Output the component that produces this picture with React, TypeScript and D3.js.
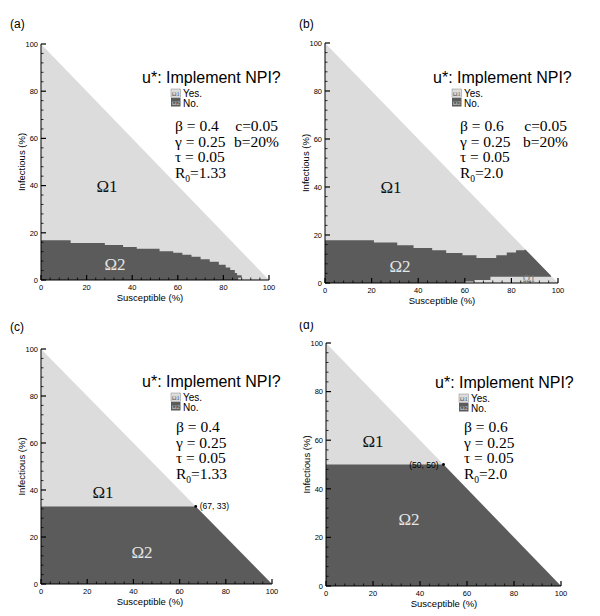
import React from "react";
import * as d3 from "d3";

// ---------- data ----------
const X_TICKS = [0, 20, 40, 60, 80, 100];
const Y_TICKS = [0, 20, 40, 60, 80, 100];
const MINOR_STEP = 4;

// (a) upper boundary of Ω2: level start S and level I
const A_STEP_S = [0, 13, 28, 36, 42, 52, 58, 62, 66, 70, 74, 78, 81, 83, 85, 86];
const A_STEP_I = [16.8, 15.7, 14.8, 14.0, 13.2, 12.2, 11.5, 10.7, 9.8, 8.8, 7.7, 6.5, 5.3, 4.2, 3.0, 2.0];
const A_TAIL_S = [88, 88, 86.5, 86.5];
const A_TAIL_I = [2.0, 1.0, 1.0, 0];

// (b) upper boundary, diagonal run, lower boundary (Ω1 strip)
const B_STEP_S = [0, 21, 31, 38, 46, 52, 59, 65, 73.5, 78, 82];
const B_STEP_I = [17.8, 16.9, 15.7, 14.6, 13.6, 12.5, 11.6, 10.4, 11.6, 12.7, 13.6];
const B_DIAG_S = [85.5, 86, 97];
const B_DIAG_I = [13.6, 14, 3];
const B_LOW_S = [97, 71, 71, 64, 64, 60, 60];
const B_LOW_I = [2.6, 2.6, 1.3, 1.3, 0.6, 0.6, 0];

// (c), (d) switching points
const C_POINT = [67, 33];
const D_POINT = [50, 50];

const LIGHT = "#dcdcdc";
const DARK = "#5b5b5b";
const SANS = "'Liberation Sans', Arial, Helvetica, sans-serif";
const SERIF = "'Liberation Serif', 'Times New Roman', Times, serif";

type Pt = [number, number];

function staircase(startS: number[], levels: number[], endS: number): Pt[] {
  const pts: Pt[] = [[0, 0]];
  startS.forEach((s, i) => {
    pts.push([s, levels[i]]);
    const next = i + 1 < startS.length ? startS[i + 1] : endS;
    pts.push([next, levels[i]]);
  });
  return pts;
}

const panelAOmega2: Pt[] = [
  ...staircase(A_STEP_S, A_STEP_I, A_TAIL_S[0]),
  ...A_TAIL_S.map((s, i) => [s, A_TAIL_I[i]] as Pt),
];
const panelBOmega2: Pt[] = [
  ...staircase(B_STEP_S, B_STEP_I, B_DIAG_S[0]),
  ...B_DIAG_S.map((s, i) => [s, B_DIAG_I[i]] as Pt),
  ...B_LOW_S.map((s, i) => [s, B_LOW_I[i]] as Pt),
];
const panelCOmega2: Pt[] = [[0, 0], [0, C_POINT[1]], [C_POINT[0], C_POINT[1]], [100, 0]];
const panelDOmega2: Pt[] = [[0, 0], [0, D_POINT[1]], [D_POINT[0], D_POINT[1]], [100, 0]];
const TRIANGLE: Pt[] = [[0, 0], [0, 100], [100, 0]];

interface PanelCfg {
  label: string;
  lx: number; ly: number;
  x0: number; x1: number; y0: number; yTop: number;
  omega2: Pt[];
  titleX: number; titleY: number;
  legX: number;
  parX: number; parY: number; parDy: number;
  beta: string; r0: string;
  extra: boolean; extraRight: number;
  o1: Pt; o2: Pt;
  xTitleX: number;
  point?: number[]; pointLabel?: string; pointAnchor?: string; pointDx?: number;
  smallO1?: Pt;
}

const PANELS: PanelCfg[] = [
  {
    label: "(a)", lx: 10, ly: 28, x0: 41, x1: 269, y0: 280, yTop: 44,
    omega2: panelAOmega2, titleX: 142, titleY: 83, legX: 171, parX: 175, parY: 131, parDy: 15.5,
    beta: "0.4", r0: "1.33", extra: true, extraRight: 278, o1: [107, 187], o2: [115, 265], xTitleX: 150,
  },
  {
    label: "(b)", lx: 299, ly: 28, x0: 325, x1: 558, y0: 283, yTop: 43,
    omega2: panelBOmega2, titleX: 433, titleY: 83, legX: 452, parX: 460, parY: 131, parDy: 15.5,
    beta: "0.6", r0: "2.0", extra: true, extraRight: 567, o1: [391, 188], o2: [400, 267], xTitleX: 442,
    smallO1: [529, 279],
  },
  {
    label: "(c)", lx: 10, ly: 331, x0: 41, x1: 272, y0: 584, yTop: 349,
    omega2: panelCOmega2, titleX: 142, titleY: 387, legX: 171, parX: 176, parY: 432, parDy: 15.5,
    beta: "0.4", r0: "1.33", extra: false, extraRight: 0, o1: [103, 493], o2: [142, 553], xTitleX: 150,
    point: C_POINT, pointLabel: "(67, 33)", pointAnchor: "start", pointDx: 4,
  },
  {
    label: "(d)", lx: 299, ly: 329, x0: 326, x1: 561, y0: 586, yTop: 343,
    omega2: panelDOmega2, titleX: 435, titleY: 388, legX: 459, parX: 464, parY: 432, parDy: 15.5,
    beta: "0.6", r0: "2.0", extra: false, extraRight: 0, o1: [373, 442], o2: [409, 520], xTitleX: 444,
    point: D_POINT, pointLabel: "(50, 50)", pointAnchor: "end", pointDx: -5,
  },
];

function Panel({ c }: { c: PanelCfg }) {
  const x = d3.scaleLinear().domain([0, 100]).range([c.x0, c.x1]);
  const y = d3.scaleLinear().domain([0, 100]).range([c.y0, c.yTop]);
  const line = d3.line<Pt>().x((d) => x(d[0])).y((d) => y(d[1]));
  const poly = (pts: Pt[]) => line(pts) + "Z";
  const minor = d3.range(0, 100 + 0.001, MINOR_STEP).filter((v) => v % 20 !== 0);
  const pf = 15.5;
  return (
    <g>
      <text x={c.lx} y={c.ly} fontFamily={SANS} fontSize={12}>{c.label}</text>
      <path d={poly(TRIANGLE)} fill={LIGHT} />
      <path d={poly(c.omega2)} fill={DARK} />
      {/* axes */}
      <line x1={x(0)} x2={x(100)} y1={y(0)} y2={y(0)} stroke="#000" strokeWidth={1} />
      <line x1={x(0)} x2={x(0)} y1={y(0)} y2={y(100)} stroke="#000" strokeWidth={1} />
      {X_TICKS.map((t) => (
        <g key={"xt" + t}>
          <line x1={x(t)} x2={x(t)} y1={y(0)} y2={y(0) - 5} stroke="#000" strokeWidth={1.2} />
          <text x={x(t)} y={y(0) + 9.5} fontFamily={SANS} fontSize={7.5} textAnchor="middle">{t}</text>
        </g>
      ))}
      {minor.map((t) => (
        <line key={"xm" + t} x1={x(t)} x2={x(t)} y1={y(0)} y2={y(0) - 2.5} stroke="#000" strokeWidth={0.8} />
      ))}
      {Y_TICKS.map((t) => (
        <g key={"yt" + t}>
          <line x1={x(0)} x2={x(0) + 5} y1={y(t)} y2={y(t)} stroke="#000" strokeWidth={1.2} />
          <text x={x(0) - 3} y={y(t) + 2.7} fontFamily={SANS} fontSize={7.5} textAnchor="end">{t}</text>
        </g>
      ))}
      {minor.map((t) => (
        <line key={"ym" + t} x1={x(0)} x2={x(0) + 2.5} y1={y(t)} y2={y(t)} stroke="#000" strokeWidth={0.8} />
      ))}
      <text x={c.xTitleX} y={y(0) + 21} fontFamily={SANS} fontSize={9.5} textAnchor="middle">Susceptible (%)</text>
      <text transform={`translate(${x(0) - 16},${(y(0) + y(100)) / 2}) rotate(-90)`} fontFamily={SANS} fontSize={9.5} textAnchor="middle">Infectious (%)</text>
      {/* region labels */}
      <text x={c.o1[0]} y={c.o1[1] + 5} fontFamily={SERIF} fontSize={17} textAnchor="middle" fill="#111">Ω1</text>
      <text x={c.o2[0]} y={c.o2[1] + 5} fontFamily={SERIF} fontSize={17} textAnchor="middle" fill="#e6e6e6">Ω2</text>
      {c.smallO1 && (
        <text x={c.smallO1[0]} y={c.smallO1[1] + 3} fontFamily={SERIF} fontSize={10} textAnchor="middle" fill="#777">Ω1</text>
      )}
      {c.point && (
        <g>
          <circle cx={x(c.point[0])} cy={y(c.point[1])} r={1.4} fill="#000" />
          <text x={x(c.point[0]) + (c.pointDx || 0)} y={y(c.point[1]) + 3} fontFamily={SANS} fontSize={8.5} textAnchor={c.pointAnchor as any}>{c.pointLabel}</text>
        </g>
      )}
      {/* legend */}
      <text x={c.titleX} y={c.titleY} fontFamily={SANS} fontSize={16}>u*: Implement NPI?</text>
      <rect x={c.legX} y={c.titleY + 6} width={9.5} height={8.5} fill={LIGHT} stroke="#999" strokeWidth={0.6} />
      <text x={c.legX + 4.75} y={c.titleY + 13} fontFamily={SERIF} fontSize={6.5} textAnchor="middle" fill="#555">Ω1</text>
      <text x={c.legX + 12} y={c.titleY + 14} fontFamily={SANS} fontSize={10}>Yes.</text>
      <rect x={c.legX} y={c.titleY + 15} width={9.5} height={8.5} fill={DARK} />
      <text x={c.legX + 4.75} y={c.titleY + 22} fontFamily={SERIF} fontSize={6.5} textAnchor="middle" fill="#ccc">Ω2</text>
      <text x={c.legX + 12} y={c.titleY + 23.5} fontFamily={SANS} fontSize={10}>No.</text>
      {/* parameters */}
      <text x={c.parX} y={c.parY} fontFamily={SERIF} fontSize={pf}>β = {c.beta}</text>
      <text x={c.parX} y={c.parY + c.parDy} fontFamily={SERIF} fontSize={pf}>γ = 0.25</text>
      <text x={c.parX} y={c.parY + 2 * c.parDy} fontFamily={SERIF} fontSize={pf}>τ = 0.05</text>
      <text x={c.parX} y={c.parY + 3 * c.parDy} fontFamily={SERIF} fontSize={pf}>R<tspan fontSize={9.5} dy={4}>0</tspan><tspan dy={-4}>={c.r0}</tspan></text>
      {c.extra && <text x={c.extraRight} y={c.parY} fontFamily={SERIF} fontSize={pf} textAnchor="end">c=0.05</text>}
      {c.extra && <text x={c.extraRight + 1} y={c.parY + c.parDy} fontFamily={SERIF} fontSize={pf} textAnchor="end">b=20%</text>}
    </g>
  );
}

export default function App() {
  return (
    <svg width={600} height={616} viewBox="0 0 600 616" style={{ display: "block", position: "absolute", left: 0, top: 0, background: "#fff" }}>
      <rect width={600} height={616} fill="#fff" />
      {PANELS.map((p) => <Panel key={p.label} c={p} />)}
      <rect x={292} y={300} width={40} height={22} fill="#fff" />
    </svg>
  );
}
